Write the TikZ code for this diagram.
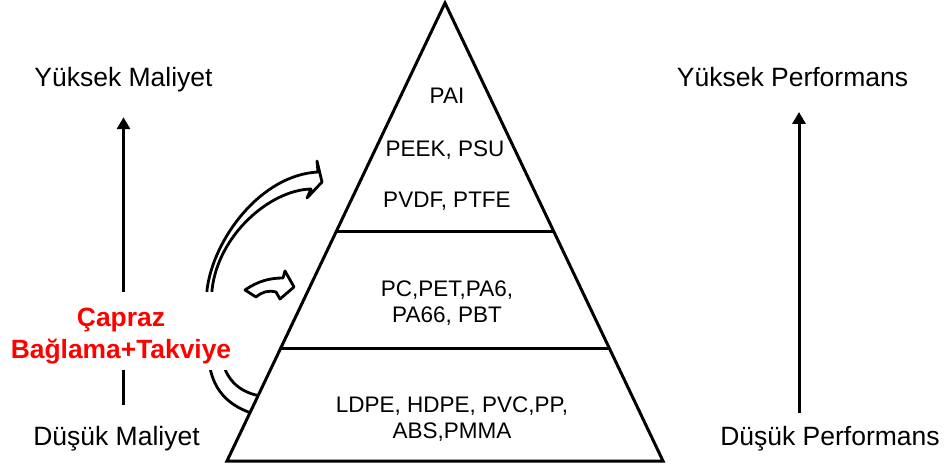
\documentclass[tikz,border=0pt]{standalone}
\usepackage{fontspec}
\setmainfont{Liberation Sans}
\definecolor{crossred}{RGB}{255, 0, 0}
\usetikzlibrary{arrows.meta, positioning, calc}
\tikzset{
	sidelabel/.style={inner sep=0pt, anchor=base, font=\fontsize{26.5}{32}\selectfont},
	tierlabel/.style={inner sep=0pt, align=center, font=\fontsize{22.5}{26}\selectfont},
	crosslabel/.style={fill=white, inner xsep=4pt, inner ysep=6pt, align=center, text=crossred, font=\bfseries\fontsize{26.4}{32}\selectfont},
	pyrline/.style={line width=3pt, line join=miter},
	vert/.style={-{Triangle[length=12pt, width=13pt]}, line width=3pt},
	blockarrow/.style={fill=white, draw=black, line width=2.8pt, line join=round},
}

\begin{document}
\begin{tikzpicture}[x=1pt, y=-1pt]
		\useasboundingbox[fill=white] (0,0) rectangle (947,468);
		% curved block arrows
		\path[blockarrow] (207,300) -- (207,290) .. controls (213,240) and (260,175) .. (318,172) -- (317,161) -- (322,182) -- (307,198) -- (311,189) .. controls (270,190) and (218,235) .. (212,290) -- (212,300) -- cycle;
		\path[blockarrow] (245,290) .. controls (258,281) and (270,278) .. (283,278) -- (285,271) -- (294,287) -- (280,299) -- (276,292) .. controls (268,290) and (262,292) .. (256,297) -- cycle;
		\path[blockarrow] (209,360) .. controls (212,395) and (235,410) .. (262,416) -- (268,397) .. controls (245,395) and (228,385) .. (222,360) -- cycle;
		% pyramid
		\coordinate (apex) at (445,3);
		\coordinate (bl) at (227,461);
		\coordinate (br) at (663,461);
		\draw[pyrline, fill=white] (apex) -- (bl) -- (br) -- cycle;
		\draw[pyrline] ($(apex)!0.499!(bl)$) -- ($(apex)!0.499!(br)$);
		\draw[pyrline] ($(apex)!0.754!(bl)$) -- ($(apex)!0.754!(br)$);
		\node[tierlabel, anchor=base] (pai) at (447,103) {PAI};
		\node[tierlabel, anchor=base] (peek) at (445,156) {PEEK, PSU};
		\node[tierlabel, anchor=base] (pvdf) at (447,207) {PVDF, PTFE};
		\node[tierlabel] (midtier) at (447,303.5) {PC,PET,PA6,\\PA66, PBT};
		\node[tierlabel] (lowtier) at (452,419) {LDPE, HDPE, PVC,PP,\\ABS,PMMA};
		% side scales
		\node[sidelabel] (highcost) at (123.5,87) {Yüksek Maliyet};
		\node[sidelabel] (lowcost) at (116.5,445) {Düşük Maliyet};
		\node[sidelabel] (highperf) at (792.5,87) {Yüksek Performans};
		\node[sidelabel] (lowperf) at (830,445) {Düşük Performans};
		\draw[vert] ([yshift=21pt]lowcost.north -| highcost.south) -- ([yshift=-24.5pt]highcost.south);
		\draw[vert] ([xshift=6.5pt, yshift=13pt]lowperf.north -| highperf.south) -- ([xshift=6.5pt, yshift=-24.5pt]highperf.south);
		\node[crosslabel] (cross) at (121,331) {\rule{0pt}{28pt}Çapraz\\Bağlama+Takviye};
	\end{tikzpicture}
\end{document}
